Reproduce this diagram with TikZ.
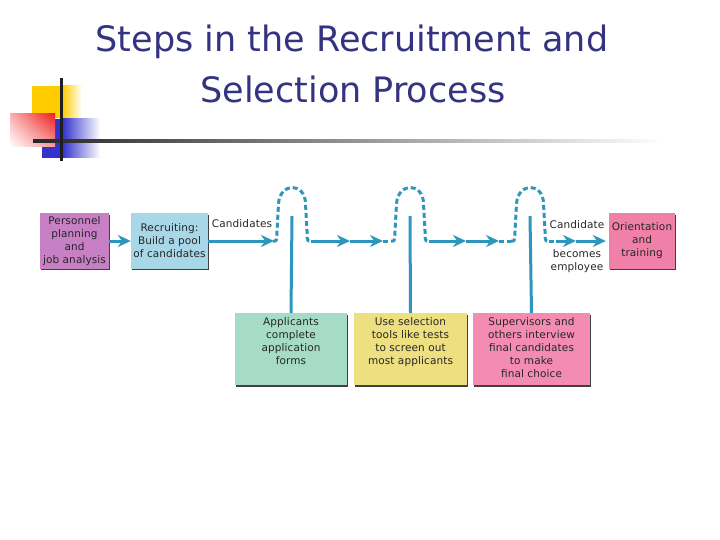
\documentclass[tikz,border=0pt]{standalone}
\usepackage{fontspec}
\newfontfamily\titlefont{DejaVu Sans}
\newfontfamily\boxfont[LetterSpace=1]{DejaVu Sans}
\usetikzlibrary{arrows.meta,shadows,shadings}
\definecolor{titleblue}{RGB}{51,51,128}
\definecolor{flowc}{RGB}{46,150,188}
\definecolor{purplebox}{RGB}{200,128,196}
\definecolor{bluebox}{RGB}{168,216,232}
\definecolor{pinkbox}{RGB}{240,128,168}
\definecolor{greenbox}{RGB}{166,220,198}
\definecolor{yellowbox}{RGB}{238,224,128}
\definecolor{pinkbox2}{RGB}{244,140,178}
\definecolor{decoyellow}{RGB}{255,204,0}
\definecolor{decoblue}{RGB}{51,51,204}
\definecolor{decored}{RGB}{240,30,30}
\begin{document}
\begin{tikzpicture}[x=1pt,y=-1pt,
  flow/.style={draw=flowc, line width=3pt},
  dashflow/.style={flow, dash pattern=on 5pt off 3pt},
  tipped/.style={-{Stealth[length=13pt,width=12pt]}},
  box/.style={draw=none, inner sep=0pt,
    drop shadow={shadow xshift=1.4pt, shadow yshift=-1.4pt, opacity=1, fill=black!75}},
  txt/.style={font=\boxfont\fontsize{10.5}{13}\selectfont, align=center, text=black!85, inner sep=0pt},
  bump/.pic={
    \draw[dashflow] (-19,0) -- (-17,0) .. controls (-15,0) and (-15,-4) .. (-15,-10)
      -- (-13.5,-37) .. controls (-12.5,-59) and (13.5,-59) .. (13.5,-37)
      -- (15,-10) .. controls (15,-4) and (15,0) .. (17,0) -- (19,0);
  }
]
\useasboundingbox (0,0) rectangle (720,540);

% decoration
\fill[decoyellow] (32,86) rectangle (63,118);
\shade[left color=decoyellow, right color=white] (62.5,86) rectangle (82,118);
\fill[decoblue] (42,119) rectangle (63,158);
\shade[left color=decoblue, right color=white] (62.5,119) rectangle (100,158);
\shade[upper right=decored, upper left=decored!35, lower right=decored!45, lower left=white] (10,114) rectangle (55,147);
\shade[left color=black!85, right color=white] (33,139.5) rectangle (665,142.5);
\fill[black!88] (59.5,78) rectangle (62.5,161);

% title
\node[font=\titlefont\fontsize{35}{40}\selectfont, text=titleblue, anchor=base] (t1) at (352,52) {Steps in the Recruitment and};
\node[font=\titlefont\fontsize{35}{40}\selectfont, text=titleblue, anchor=base] (t2) at (353,103) {Selection Process};

% top boxes
\node[box, txt, fill=purplebox, minimum width=69pt, minimum height=55pt] (plan) at (74.5,241) {Personnel\\planning\\and\\job analysis};
\node[box, txt, fill=bluebox, minimum width=77pt, minimum height=55pt] (recruit) at (169.5,241) {Recruiting:\\Build a pool\\of candidates};
\node[box, txt, fill=pinkbox, minimum width=66pt, minimum height=55pt] (orient) at (642,241) {Orientation\\and\\training};

% bottom boxes
\node[box, fill=greenbox, minimum width=112pt, minimum height=72pt, anchor=north] (app) at (291,313) {};
\node[box, fill=yellowbox, minimum width=113pt, minimum height=72pt, anchor=north] (sel) at (410.5,313) {};
\node[box, fill=pinkbox2, minimum width=117pt, minimum height=72pt, anchor=north] (sup) at (531.5,313) {};
\node[txt, anchor=north] (appt) at (291,317.5) {Applicants\\complete\\application\\forms};
\node[txt, anchor=north] (selt) at (410.5,317.5) {Use selection\\tools like tests\\to screen out\\most applicants};
\node[txt, anchor=north] (supt) at (531.5,317.5) {Supervisors and\\others interview\\final candidates\\to make\\final choice};

% labels
\node[txt] (lcand) at (242,224) {Candidates};
\node[txt] (lcand2) at (577,225) {Candidate};
\node[txt] (lemp) at (577,261) {becomes\\employee};

% flow coordinates
\coordinate (a1) at (274,241);
\coordinate (f1) at (311,241);
\coordinate (s1) at (315,241);
\coordinate (a2) at (350,241);
\coordinate (a3) at (383,241);
\coordinate (g2) at (391,241);
\coordinate (f2) at (429,241);
\coordinate (s2) at (432,241);
\coordinate (a4) at (466,241);
\coordinate (a5) at (499,241);
\coordinate (g3) at (511,241);
\coordinate (f3) at (549,241);
\coordinate (s3) at (556,241);
\coordinate (a6) at (576,241);
\coordinate (v1) at (292,216);
\coordinate (v2) at (410,216);
\coordinate (v3) at (530,216);

% flow
\draw[flow, tipped] (plan) -- (recruit);
\draw[flow, tipped] (recruit.east) -- (a1);
\pic at (292,241) {bump};
\draw[dashflow] (f1) -- (s1);
\draw[flow, tipped] (s1) -- (a2);
\draw[flow, tipped] (a2) -- (a3);
\draw[dashflow] (a3) -- (g2);
\pic at (410,241) {bump};
\draw[dashflow] (f2) -- (s2);
\draw[flow, tipped] (s2) -- (a4);
\draw[flow, tipped] (a4) -- (a5);
\draw[dashflow] (a5) -- (g3);
\pic at (530,241) {bump};
\draw[dashflow] (f3) -- (s3);
\draw[flow, tipped] (s3) -- (a6);
\draw[flow, tipped] (a6) -- ([xshift=-3pt]orient.west);

% verticals
\draw[flow] (v1) -- (app.north);
\draw[flow] (v2) -- (sel.north);
\draw[flow] (v3) -- (sup.north);
\end{tikzpicture}
\end{document}
